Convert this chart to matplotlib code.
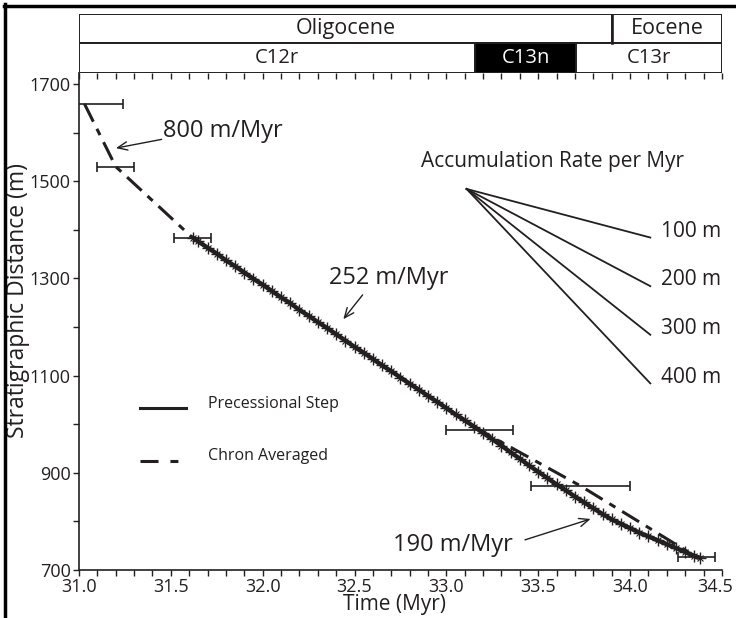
import numpy as np
import matplotlib.pyplot as plt
import matplotlib.transforms as mtransforms
from matplotlib.patches import Rectangle
from matplotlib.lines import Line2D

plt.rcParams['font.family'] = ['Open Sans', 'DejaVu Sans']
ink = '#231f20'

# --- donnees ---
# courbe "Precessional Step" (temps en Myr, distance en m)
prec_t = [31.62, 31.65, 31.70, 31.75, 31.80, 31.85, 31.90, 31.95, 32.00, 32.05,
          32.10, 32.15, 32.20, 32.25, 32.30, 32.35, 32.40, 32.45, 32.50, 32.55,
          32.60, 32.65, 32.70, 32.75, 32.80, 32.85, 32.90, 32.95, 33.00, 33.05,
          33.10, 33.15, 33.20, 33.25, 33.30, 33.35, 33.40, 33.45, 33.50, 33.55,
          33.60, 33.65, 33.70, 33.75, 33.80, 33.85, 33.90, 33.95, 34.00, 34.05,
          34.10, 34.15, 34.20, 34.25, 34.30, 34.35, 34.38]
prec_z = [1384, 1376, 1363, 1351, 1337, 1325, 1312, 1299, 1287, 1274,
          1261, 1249, 1235, 1223, 1210, 1198, 1185, 1172, 1159, 1147,
          1134, 1121, 1109, 1096, 1083, 1071, 1058, 1046, 1033, 1020,
          1008, 995, 982, 969, 956, 942, 929, 915, 902, 889,
          876, 864, 851, 839, 827, 815, 804, 795, 786, 777,
          769, 761, 753, 745, 737, 729, 725]

# points de calage "Chron Averaged" et barres d'erreur
chron_t = [31.03, 31.20, 31.62, 33.18, 33.73, 34.36]
chron_z = [1659, 1530, 1383, 988, 873, 727]
chron_err = [0.21, 0.10, 0.10, 0.18, 0.27, 0.10]

# bandeau epoques / chrons
epochs = [('Oligocene', 31.0, 33.9), ('Eocene', 33.9, 34.5)]
chrons = [('C12r', 31.0, 33.157, 'white'), ('C13n', 33.157, 33.705, 'black'),
          ('C13r', 33.705, 34.5, 'white')]

# eventail des taux d'accumulation
fan_origin = (33.11, 1484)
fan_rates = [100, 200, 300, 400]

fig = plt.figure(figsize=(7.36, 6.18), dpi=100)
ax = fig.add_axes([0.1073, 0.0777, 0.8736, 0.8042])
axh = fig.add_axes([0.1073, 0.8819, 0.8736, 0.0955], sharex=ax)

# courbes
ax.plot(chron_t, chron_z, color=ink, lw=2.2, dashes=(6.5, 2.6, 2.3, 2.6))
ax.plot(prec_t, prec_z, color=ink, lw=3.2, solid_capstyle='round')
ax.plot(prec_t, prec_z, '+', color=ink, ms=9, mew=1.0)
ax.plot(prec_t, prec_z, 'x', color=ink, ms=5, mew=0.8)
ax.errorbar(chron_t, chron_z, xerr=chron_err, fmt='none', ecolor=ink,
            elinewidth=1.2, capsize=3.5, capthick=1.2)

# eventail
for r in fan_rates:
    ax.plot([fan_origin[0], fan_origin[0] + 1.0],
            [fan_origin[1], fan_origin[1] - r], color=ink, lw=1.3)
    ax.text(fan_origin[0] + 1.06, fan_origin[1] - r + 13, '%d m' % r,
            fontsize=15, color=ink, va='center', ha='left')
ax.text(33.58, 1541, 'Accumulation Rate per Myr', fontsize=15, color=ink,
        ha='center', va='center')

# annotations
arr = dict(arrowstyle='->,head_length=0.7,head_width=0.3', color=ink, lw=1.0,
           shrinkA=0, shrinkB=0)
ax.annotate('', xy=(31.201, 1568), xytext=(31.45, 1586), arrowprops=arr)
ax.text(31.782, 1603, '800 m/Myr', fontsize=17, color=ink, ha='center', va='center')
ax.annotate('', xy=(32.439, 1216), xytext=(32.544, 1266), arrowprops=arr)
ax.text(32.687, 1301, '252 m/Myr', fontsize=17, color=ink, ha='center', va='center')
ax.annotate('', xy=(33.785, 805), xytext=(33.428, 762), arrowprops=arr)
ax.text(33.035, 751, '190 m/Myr', fontsize=17, color=ink, ha='center', va='center')

# legende dessinee a la main
ax.add_line(Line2D([0.0942, 0.1667], [0.3259, 0.3259], transform=ax.transAxes,
                   color=ink, lw=2.2))
ax.add_line(Line2D([0.0942, 0.1679], [0.2193, 0.2193], transform=ax.transAxes,
                   color=ink, lw=2.2, dashes=(5.9, 3.9, 2.6, 10)))
ax.text(0.2006, 0.3330, 'Precessional Step', transform=ax.transAxes,
        fontsize=11.5, color=ink, va='center')
ax.text(0.2006, 0.2293, 'Chron Averaged', transform=ax.transAxes,
        fontsize=11.5, color=ink, va='center')

# axes
ax.set_xlim(31.0, 34.5)
ax.set_ylim(700, 1722.6)
ax.set_xticks(np.arange(31.0, 34.51, 0.5))
ax.set_xticks(np.arange(31.0, 34.51, 0.1), minor=True)
ax.set_xticklabels(['%.1f' % v for v in np.arange(31.0, 34.51, 0.5)])
ax.set_yticks(np.arange(700, 1701, 200))
ax.set_yticks(np.arange(700, 1701, 100), minor=True)
ax.tick_params(axis='both', which='both', direction='out', color=ink,
               labelcolor=ink, labelsize=13, width=1.0)
ax.tick_params(axis='x', which='both', length=4.5, pad=1)
ax.tick_params(axis='y', which='both', length=4.5, pad=1.5)
for s in ['top', 'right']:
    ax.spines[s].set_visible(False)
for s in ['left', 'bottom']:
    ax.spines[s].set_color(ink)
    ax.spines[s].set_linewidth(1.2)
ax.set_xlabel('Time (Myr)', fontsize=15, color=ink)
ax.set_ylabel('Stratigraphic Distance (m)', fontsize=16.5, color=ink)
ax.xaxis.label.set_va('center')
ax.yaxis.label.set_va('center')
ax.xaxis.set_label_coords(0.491, -0.0704)
ax.yaxis.set_label_coords(-0.0956, 0.543)

# le dernier label (34.5) est decale vers la gauche comme sur l'original
fig.canvas.draw()
lab = ax.get_xticklabels()[-1]
lab.set_transform(lab.get_transform() +
                  mtransforms.ScaledTranslation(-7 / 100, 0, fig.dpi_scale_trans))

# bandeau
axh.set_ylim(0, 2)
for name, a, b in epochs:
    axh.add_patch(Rectangle((a, 1), b - a, 1, facecolor='white', edgecolor=ink, lw=1.4))
    axh.text((a + b) / 2, 1.5, name, ha='center', va='center', fontsize=15.5, color=ink)
for name, a, b, c in chrons:
    axh.add_patch(Rectangle((a, 0), b - a, 1, facecolor=c, edgecolor=ink, lw=1.4))
    axh.text((a + b) / 2, 0.5, name, ha='center', va='center', fontsize=14.5,
             color='white' if c == 'black' else ink)
axh.axvline(33.9, ymin=0.5, ymax=1.0, color=ink, lw=1.9)
for s in axh.spines.values():
    s.set_visible(False)
axh.tick_params(axis='x', which='both', direction='out', length=4, color=ink,
                labelbottom=False, width=1.0)
axh.tick_params(axis='y', left=False, labelleft=False)
axh.patch.set_visible(False)

# cadre noir (haut et gauche)
fig.add_artist(Line2D([0.006, 1.0], [0.991, 0.991], color='black', lw=2.5))
fig.add_artist(Line2D([0.0065, 0.0065], [0.0, 0.993], color='black', lw=2.5))

fig.savefig('out.png', dpi=100)
